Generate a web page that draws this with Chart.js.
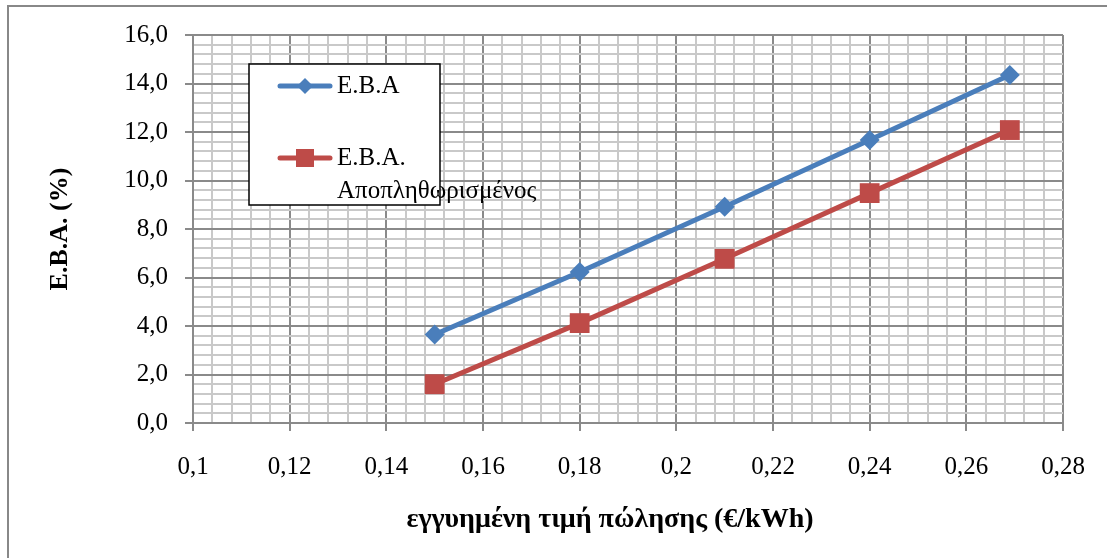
<!DOCTYPE html>
<html>
<head>
<meta charset="utf-8">
<script src="https://cdn.jsdelivr.net/npm/chart.js@4"></script>
<style>
  html, body { margin: 0; padding: 0; background: #fff; }
  #wrap { position: relative; width: 1107px; height: 558px; }
</style>
</head>
<body>
<div id="wrap"><canvas id="ebaChart" width="1107" height="558"></canvas></div>
<script>
// guaranteed selling price (€/kWh) and IRR (%)
const prices = [0.15, 0.18, 0.21, 0.24, 0.269];
const ebaNominal = [3.65, 6.23, 8.92, 11.67, 14.35];
const ebaDeflated = [1.6, 4.12, 6.77, 9.48, 12.08];

const xTicksMajor = [0.1, 0.12, 0.14, 0.16, 0.18, 0.2, 0.22, 0.24, 0.26, 0.28];
const yTicksMajor = [0, 2, 4, 6, 8, 10, 12, 14, 16];

const seriesNames = [['Ε.Β.Α'], ['Ε.Β.Α.', 'Αποπληθωρισμένος']];
const xTitle = 'εγγυημένη τιμή πώλησης (€/kWh)';
const yTitle = 'Ε.Β.Α. (%)';

const BLUE = '#4a7ebb';
const RED = '#be4b48';
const MAJOR = '#8a8a8a';
const MINOR = '#c9c9c9';
const FONT = '"Liberation Serif", "Times New Roman", serif';

// minor grid: 5 divisions per major step
function subdivide(majors, parts) {
  const out = [];
  for (let i = 0; i < majors.length - 1; i++) {
    const step = (majors[i + 1] - majors[i]) / parts;
    for (let k = 0; k < parts; k++) out.push(+(majors[i] + k * step).toFixed(6));
  }
  out.push(majors[majors.length - 1]);
  return out;
}
const xGrid = subdivide(xTicksMajor, 5);
const yGrid = subdivide(yTicksMajor, 5);

const isMajor = (list, v) => list.some(m => Math.abs(m - v) < 1e-6);
const comma = s => s.replace('.', ',');

function drawMarker(ctx, style, x, y, r, color) {
  ctx.save();
  ctx.fillStyle = color;
  ctx.beginPath();
  if (style === 'rectRot') {
    ctx.moveTo(x, y - r); ctx.lineTo(x + r, y); ctx.lineTo(x, y + r); ctx.lineTo(x - r, y);
  } else {
    ctx.rect(x - r, y - r, 2 * r, 2 * r);
  }
  ctx.closePath();
  ctx.fill();
  ctx.restore();
}

// outer frame of the figure
const framePlugin = {
  id: 'frame',
  beforeDraw(chart) {
    const ctx = chart.ctx;
    ctx.save();
    ctx.strokeStyle = '#888';
    ctx.lineWidth = 2;
    ctx.beginPath();
    ctx.moveTo(8, 560);
    ctx.lineTo(8, 6);
    ctx.lineTo(1110, 6);
    ctx.stroke();
    ctx.restore();
  }
};

// axis titles placed by hand
const titlesPlugin = {
  id: 'titles',
  afterDraw(chart) {
    const ctx = chart.ctx;
    const a = chart.chartArea;
    ctx.save();
    ctx.fillStyle = '#000';
    ctx.textAlign = 'center';
    ctx.textBaseline = 'middle';
    ctx.font = 'bold 28px ' + FONT;
    ctx.fillText(xTitle, 610, 520);
    ctx.font = 'bold 26px ' + FONT;
    ctx.translate(60, (a.top + a.bottom) / 2);
    ctx.rotate(-Math.PI / 2);
    ctx.fillText(yTitle, 0, 0);
    ctx.restore();
  }
};

// boxed legend sitting inside the plot
const boxLegend = {
  id: 'boxLegend',
  afterDatasetsDraw(chart) {
    const ctx = chart.ctx;
    const box = { x: 249, y: 64, w: 191, h: 141 };
    ctx.save();
    ctx.fillStyle = '#fff';
    ctx.fillRect(box.x, box.y, box.w, box.h);
    ctx.strokeStyle = '#000';
    ctx.lineWidth = 1.5;
    ctx.strokeRect(box.x, box.y, box.w, box.h);

    const rows = [86, 158];
    chart.data.datasets.forEach((ds, i) => {
      const y = rows[i];
      ctx.strokeStyle = ds.borderColor;
      ctx.lineWidth = 5;
      ctx.lineCap = 'round';
      ctx.beginPath();
      ctx.moveTo(280, y);
      ctx.lineTo(330, y);
      ctx.stroke();
      drawMarker(ctx, ds.pointStyle, 305, y, ds.pointStyle === 'rectRot' ? 8 : 9, ds.borderColor);
      ctx.fillStyle = '#000';
      ctx.font = '25px ' + FONT;
      ctx.textAlign = 'left';
      ctx.textBaseline = 'middle';
      seriesNames[i].forEach((line, j) => ctx.fillText(line, 337, y + j * 33));
    });
    ctx.restore();
  }
};

const toPoints = ys => prices.map((x, i) => ({ x, y: ys[i] }));

new Chart(document.getElementById('ebaChart'), {
  type: 'line',
  data: {
    datasets: [
      {
        label: seriesNames[0].join(' '),
        data: toPoints(ebaNominal),
        borderColor: BLUE, backgroundColor: BLUE,
        borderWidth: 5, pointStyle: 'rectRot', pointRadius: 10,
        pointBackgroundColor: BLUE, pointBorderWidth: 0, tension: 0
      },
      {
        label: seriesNames[1].join(' '),
        data: toPoints(ebaDeflated),
        borderColor: RED, backgroundColor: RED,
        borderWidth: 5, pointStyle: 'rect', pointRadius: 14,
        pointBackgroundColor: RED, pointBorderWidth: 0, tension: 0
      }
    ]
  },
  options: {
    responsive: false,
    animation: false,
    layout: { padding: { left: 0, top: 35, right: 44, bottom: 0 } },
    plugins: { legend: { display: false }, tooltip: { enabled: false } },
    scales: {
      x: {
        type: 'linear', min: 0.1, max: 0.28,
        afterBuildTicks: s => { s.ticks = xGrid.map(v => ({ value: v })); },
        afterFit: s => { s.height = 135; },
        ticks: {
          autoSkip: false, maxRotation: 0, padding: 21, color: '#000',
          font: { family: FONT, size: 25 },
          callback: v => isMajor(xTicksMajor, v) ? comma(String(+v.toFixed(2))) : ''
        },
        grid: {
          tickLength: 8,
          color: c => isMajor(xTicksMajor, c.tick.value) ? MAJOR : MINOR,
          tickColor: c => isMajor(xTicksMajor, c.tick.value) ? MAJOR : 'rgba(0,0,0,0)',
          lineWidth: 2
        },
        border: { color: MAJOR, width: 2 }
      },
      y: {
        type: 'linear', min: 0, max: 16,
        afterBuildTicks: s => { s.ticks = yGrid.map(v => ({ value: v })); },
        afterFit: s => { s.width = 193; },
        ticks: {
          autoSkip: false, padding: 17, color: '#000',
          font: { family: FONT, size: 25 },
          callback: v => isMajor(yTicksMajor, v) ? comma(v.toFixed(1)) : ''
        },
        grid: {
          tickLength: 8,
          color: c => isMajor(yTicksMajor, c.tick.value) ? MAJOR : MINOR,
          tickColor: c => isMajor(yTicksMajor, c.tick.value) ? MAJOR : 'rgba(0,0,0,0)',
          lineWidth: 2
        },
        border: { color: MAJOR, width: 2 }
      }
    }
  },
  plugins: [framePlugin, titlesPlugin, boxLegend]
});
</script>
</body>
</html>
